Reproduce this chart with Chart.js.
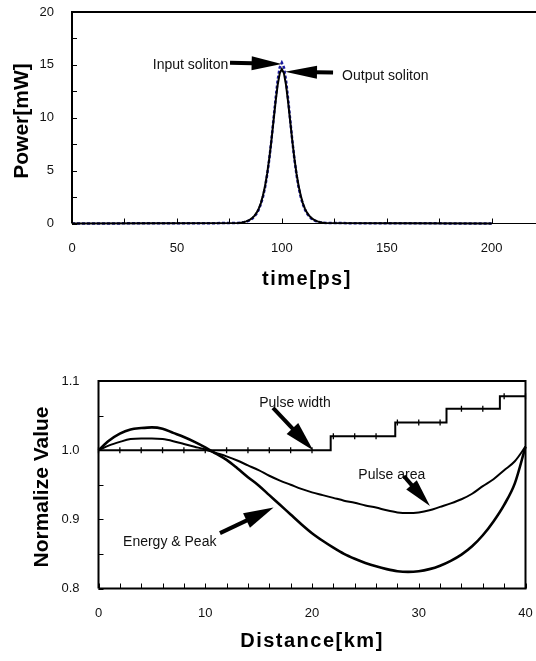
<!DOCTYPE html>
<html>
<head>
<meta charset="utf-8">
<script src="https://cdn.jsdelivr.net/npm/chart.js@4.4.0/dist/chart.umd.min.js"></script>
<style>
  html, body { margin: 0; padding: 0; background: #fff; width: 536px; height: 661px; overflow: hidden; }
  #c1 { position: absolute; left: 0; top: 0; }
  #c2 { position: absolute; left: 0; top: 300px; }
</style>
</head>
<body>
<canvas id="c1" width="640" height="300"></canvas>
<canvas id="c2" width="536" height="361"></canvas>
<script>
// soliton pulse, power vs time
const timePs = [0, 79, 80, 81, 82, 83, 84, 85, 86, 87, 88, 89, 90, 91, 92, 93, 94, 95, 96, 97, 98, 99, 100,
  101, 102, 103, 104, 105, 106, 107, 108, 109, 110, 111, 112, 113, 114, 115, 116, 117, 118, 119, 120, 121, 200]
const inputPower = [0, 0.04, 0.06, 0.09, 0.12, 0.17, 0.24, 0.34, 0.48, 0.67, 0.94, 1.31, 1.82, 2.51, 3.42, 4.59, 6.04, 7.82, 9.77, 11.75, 13.53, 14.76, 15.2,
  14.76, 13.53, 11.75, 9.77, 7.82, 6.04, 4.59, 3.42, 2.51, 1.82, 1.31, 0.94, 0.67, 0.48, 0.34, 0.24, 0.17, 0.12, 0.09, 0.06, 0.04, 0]
const outputPower = [0, 0.05, 0.07, 0.10, 0.14, 0.20, 0.28, 0.39, 0.54, 0.75, 1.03, 1.41, 1.93, 2.64, 3.55, 4.71, 6.13, 7.80, 9.64, 11.48, 13.09, 14.20, 14.6,
  14.20, 13.09, 11.48, 9.64, 7.80, 6.13, 4.71, 3.55, 2.64, 1.93, 1.41, 1.03, 0.75, 0.54, 0.39, 0.28, 0.20, 0.14, 0.10, 0.07, 0.05, 0]

// normalized values vs distance
const distanceKm = [0, 1, 2, 3, 4, 5, 6, 7, 8, 9, 10, 11, 12, 13, 14, 15, 16, 17, 18, 19, 20,
  21, 22, 23, 24, 25, 26, 27, 28, 29, 30, 31, 32, 33, 34, 35, 36, 37, 38, 39, 40]
const energyPeak = [1.000, 1.014, 1.024, 1.030, 1.032, 1.033, 1.031, 1.025, 1.019, 1.012, 1.004, 0.995, 0.986, 0.974, 0.961, 0.949, 0.935, 0.921, 0.907, 0.893, 0.880,
  0.869, 0.859, 0.850, 0.843, 0.837, 0.832, 0.828, 0.825, 0.824, 0.825, 0.828, 0.833, 0.840, 0.849, 0.861, 0.877, 0.897, 0.921, 0.952, 1.005]
const pulseArea = [1.000, 1.007, 1.012, 1.016, 1.017, 1.017, 1.016, 1.013, 1.009, 1.005, 1.001, 0.996, 0.991, 0.985, 0.978, 0.971, 0.963, 0.956, 0.950, 0.944, 0.939,
  0.935, 0.931, 0.927, 0.924, 0.920, 0.917, 0.913, 0.910, 0.909, 0.910, 0.913, 0.918, 0.923, 0.929, 0.937, 0.948, 0.958, 0.971, 0.984, 1.005]
const widthKm = [0, 2, 4, 6, 8, 10, 12, 14, 16, 18, 20, 21.75, 22, 24, 26, 27.8, 28, 30, 32, 32.6, 34, 36, 37.6, 38, 40]
const pulseWidth = [1, 1, 1, 1, 1, 1, 1, 1, 1, 1, 1, 1.02, 1.02, 1.02, 1.02, 1.04, 1.04, 1.04, 1.04, 1.06, 1.06, 1.06, 1.078, 1.078, 1.078]

const FONT = '"Liberation Sans", Arial, sans-serif'

const pairs = (xs, ys) => xs.map((v, i) => ({ x: v, y: ys[i] }))

function drawArrow(ctx, x1, y1, x2, y2, head, half, w) {
  const len = Math.hypot(x2 - x1, y2 - y1)
  const ux = (x2 - x1) / len, uy = (y2 - y1) / len
  const bx = x2 - ux * head, by = y2 - uy * head
  ctx.lineWidth = w
  ctx.beginPath()
  ctx.moveTo(x1, y1)
  ctx.lineTo(bx + ux, by + uy)
  ctx.stroke()
  ctx.beginPath()
  ctx.moveTo(x2, y2)
  ctx.lineTo(bx - uy * half, by + ux * half)
  ctx.lineTo(bx + uy * half, by - ux * half)
  ctx.closePath()
  ctx.fill()
}

// inside ticks, frame, axis titles and the arrow labels
const decor = {
  id: 'decor',
  afterDraw(chart, args, o) {
    const { ctx, chartArea: a, scales: { x, y } } = chart
    ctx.save()
    ctx.strokeStyle = '#000'
    ctx.fillStyle = '#000'

    ctx.lineWidth = 1
    ctx.beginPath()
    x.ticks.forEach(t => {
      const px = Math.round(x.getPixelForValue(t.value)) + 0.5
      ctx.moveTo(px, a.bottom)
      ctx.lineTo(px, a.bottom - o.tick)
    })
    y.ticks.forEach(t => {
      const py = Math.round(y.getPixelForValue(t.value)) + 0.5
      ctx.moveTo(a.left, py)
      ctx.lineTo(a.left + o.tick, py)
    })
    ctx.stroke()

    ctx.lineWidth = 2
    ctx.beginPath()
    ctx.moveTo(a.left, a.bottom)
    ctx.lineTo(a.left, a.top)
    ctx.lineTo(a.right, a.top)
    if (o.closed) {
      ctx.lineTo(a.right, a.bottom)
      ctx.lineTo(a.left, a.bottom)
    }
    ctx.stroke()
    if (!o.closed) {
      ctx.lineWidth = 1.2
      ctx.beginPath()
      ctx.moveTo(a.left, a.bottom)
      ctx.lineTo(a.right, a.bottom)
      ctx.stroke()
    }

    // axis titles
    ctx.textAlign = 'center'
    ctx.textBaseline = 'middle'
    ctx.font = 'bold 21px ' + FONT
    ctx.save()
    ctx.translate(o.yTitle.x, o.yTitle.y)
    ctx.rotate(-Math.PI / 2)
    ctx.fillText(o.yTitle.text, 0, 0)
    ctx.restore()
    ctx.font = 'bold 20px ' + FONT
    ctx.letterSpacing = '1.5px'
    ctx.fillText(o.xTitle.text, o.xTitle.x, o.xTitle.y)
    ctx.letterSpacing = '0px'

    // labels with arrows
    ctx.font = '14px ' + FONT
    ctx.fillStyle = '#111'
    o.notes.forEach(n => {
      ctx.textAlign = n.align
      ctx.fillText(n.text, x.getPixelForValue(n.at[0]), y.getPixelForValue(n.at[1]))
    })
    ctx.fillStyle = '#000'
    o.arrows.forEach(ar => {
      drawArrow(ctx,
        x.getPixelForValue(ar.from[0]), y.getPixelForValue(ar.from[1]),
        x.getPixelForValue(ar.to[0]), y.getPixelForValue(ar.to[1]),
        ar.head, ar.half, 4)
    })
    ctx.restore()
  }
}

const tickFont = { family: FONT, size: 13 }

// fixed axis boxes, no extra label padding around the plot
const fixX = h => s => { s.height = h; s.paddingLeft = 0; s.paddingRight = 0 }
const fixY = w => s => { s.width = w; s.paddingTop = 0; s.paddingBottom = 0 }

new Chart(document.getElementById('c1'), {
  type: 'line',
  data: {
    datasets: [
      {
        label: 'Output soliton',
        data: pairs(timePs, outputPower),
        borderColor: '#000',
        borderWidth: 2,
        pointRadius: 0,
        order: 0,
        clip: 4
      },
      {
        label: 'Input soliton',
        data: pairs(timePs, inputPower),
        borderColor: '#1c1ca0',
        borderWidth: 2.5,
        borderDash: [3, 2],
        pointRadius: 0,
        order: 1,
        clip: 4
      }
    ]
  },
  options: {
    responsive: false,
    animation: false,
    devicePixelRatio: 1,
    layout: { padding: { top: 12, right: 43.4, bottom: 0, left: 0 } },
    plugins: {
      legend: { display: false },
      tooltip: { enabled: false },
      decor: {
        tick: 5,
        closed: false,
        yTitle: { text: 'Power[mW]', x: 22.5, y: 121 },
        xTitle: { text: 'time[ps]', x: 307, y: 279 },
        notes: [
          { text: 'Input soliton', at: [74.5, 15.0], align: 'right' },
          { text: 'Output soliton', at: [128.7, 13.95], align: 'left' }
        ],
        arrows: [
          { from: [75.3, 15.2], to: [99.9, 15.08], head: 30, half: 7 },
          { from: [124.4, 14.28], to: [101.5, 14.35], head: 32, half: 6.5 }
        ]
      }
    },
    scales: {
      x: {
        type: 'linear',
        min: 0,
        max: 250,
        afterFit: fixX(76.5),
        grid: { display: false },
        border: { display: false },
        ticks: {
          stepSize: 25,
          autoSkip: false,
          maxRotation: 0,
          padding: 9,
          color: '#111',
          font: tickFont,
          callback: v => v % 50 === 0 ? v : ''
        }
      },
      y: {
        min: 0,
        max: 20,
        afterFit: fixY(72),
        grid: { display: false },
        border: { display: false },
        ticks: {
          stepSize: 2.5,
          autoSkip: false,
          padding: 10,
          color: '#111',
          font: tickFont,
          callback: v => v % 5 === 0 ? v : ''
        }
      }
    }
  },
  plugins: [decor]
})

new Chart(document.getElementById('c2'), {
  type: 'line',
  data: {
    datasets: [
      {
        label: 'Pulse width',
        data: pairs(widthKm, pulseWidth),
        stepped: 'before',
        borderColor: '#000',
        borderWidth: 2,
        pointStyle: 'line',
        rotation: 90,
        pointRadius: c => (widthKm[c.dataIndex] % 2 === 0 ? 3 : 0),
        pointBorderWidth: 1.3,
        pointBorderColor: '#000',
        clip: 4
      },
      {
        label: 'Pulse area',
        data: pairs(distanceKm, pulseArea),
        borderColor: '#000',
        borderWidth: 2,
        pointRadius: 0,
        cubicInterpolationMode: 'monotone',
        clip: 4
      },
      {
        label: 'Energy & Peak',
        data: pairs(distanceKm, energyPeak),
        borderColor: '#000',
        borderWidth: 2.6,
        pointRadius: 0,
        cubicInterpolationMode: 'monotone',
        clip: 4
      }
    ]
  },
  options: {
    responsive: false,
    animation: false,
    devicePixelRatio: 1,
    layout: { padding: { top: 81, right: 10.5, bottom: 0, left: 0 } },
    plugins: {
      legend: { display: false },
      tooltip: { enabled: false },
      decor: {
        tick: 5,
        closed: true,
        yTitle: { text: 'Normalize Value', x: 42.5, y: 187 },
        xTitle: { text: 'Distance[km]', x: 312, y: 341 },
        notes: [
          { text: 'Pulse width', at: [15.05, 1.0675], align: 'left' },
          { text: 'Pulse area', at: [24.34, 0.964], align: 'left' },
          { text: 'Energy & Peak', at: [2.3, 0.867], align: 'left' }
        ],
        arrows: [
          { from: [16.35, 1.061], to: [20.1, 1.0], head: 30, half: 8 },
          { from: [28.6, 0.9627], to: [31.05, 0.9194], head: 28, half: 7 },
          { from: [11.38, 0.880], to: [16.4, 0.917], head: 30, half: 8 }
        ]
      }
    },
    scales: {
      x: {
        type: 'linear',
        min: 0,
        max: 40,
        afterFit: fixX(72.5),
        grid: { display: false },
        border: { display: false },
        ticks: {
          stepSize: 2,
          autoSkip: false,
          maxRotation: 0,
          padding: 9,
          color: '#111',
          font: tickFont,
          callback: v => v % 10 === 0 ? v : ''
        }
      },
      y: {
        min: 0.8,
        max: 1.1,
        afterFit: fixY(98.5),
        grid: { display: false },
        border: { display: false },
        ticks: {
          stepSize: 0.05,
          autoSkip: false,
          padding: 11,
          color: '#111',
          font: tickFont,
          callback: v => Math.abs(v * 10 - Math.round(v * 10)) < 1e-6 ? v.toFixed(1) : ''
        }
      }
    }
  },
  plugins: [decor]
})
</script>
</body>
</html>
